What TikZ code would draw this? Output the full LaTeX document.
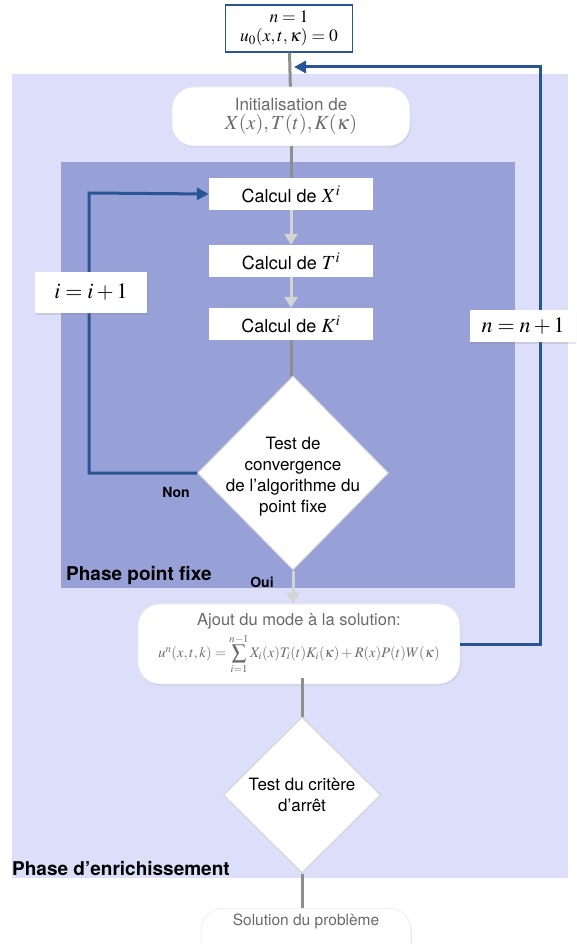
\documentclass[tikz,border=0pt]{standalone}
\usepackage{mathptmx}
\usepackage{fontspec}
\setmainfont{TeX Gyre Heros}
\usetikzlibrary{arrows.meta,positioning,shapes.geometric,shadows}
\definecolor{Lav}{HTML}{DDDEF9}
\definecolor{Peri}{HTML}{97A0D7}
\definecolor{Navy}{HTML}{2A5595}
\definecolor{Stem}{HTML}{8E8E8E}
\definecolor{Faint}{HTML}{D4D4D4}
\definecolor{Muted}{HTML}{6A6A6A}
\newcommand{\iterm}[1]{{\fontsize{20}{21}\selectfont$#1$}}
\tikzset{
  >=Latex,
  fnt/.style={font=\fontsize{#1}{21}\selectfont},
  start/.style={rectangle,draw=Navy,line width=1.3pt,fill=white,minimum width=127,minimum height=47,align=center,inner sep=2pt,fnt=17.5},
  calcbox/.style={rectangle,fill=white,minimum width=164,minimum height=32,inner sep=0pt,fnt=18},
  rbox/.style={rectangle,rounded corners=22,fill=white,draw=black!8,line width=.6pt,text=Muted,align=center,
    drop shadow={opacity=.18,shadow xshift=1pt,shadow yshift=-1.5pt}},
  test/.style={diamond,fill=white,draw=Faint,line width=1pt,inner sep=0pt},
  lab/.style={rectangle,fill=white,inner sep=0pt,fnt=22,
    drop shadow={opacity=.2,shadow xshift=1pt,shadow yshift=-1.5pt}},
  stem/.style={draw=Stem,line width=3pt},
  flow/.style={-{Triangle[width=13pt,length=11pt]},draw=Faint,line width=3pt},
  loop/.style={-{Triangle[width=12pt,length=12pt]},draw=Navy,line width=3pt},
  tag/.style={font=\bfseries\fontsize{#1}{22}\selectfont,inner sep=0pt}
}
\begin{document}
\begin{tikzpicture}[x=1pt,y=-1pt]
  \path[use as bounding box,clip] (0,0) rectangle (576,944);
  % phases
  \fill[Lav] (12,74) rectangle (568,878);
  \fill[Peri] (61,162) rectangle (515,588);
  \node[tag=19,anchor=south west] (enr) at (12,876) {Phase d'enrichissement};
  \node[tag=19,anchor=south west] (pf) at (66,585) {Phase point fixe};
  % steps
  \node[start] (n1) at (289,28.5) {$n=1$\\[-2pt]$u_0(x,t,\kappa)=0$};
  \node[rbox,minimum width=238,minimum height=59,inner sep=2pt] (init) at (291,116.5)
    {\fontsize{17}{19}\selectfont Initialisation de\\[3pt]\fontsize{20}{22}\selectfont$X(x),T(t),K(\kappa)$};
  \node[calcbox] (cx) at (291,194) {Calcul de \iterm{X^i}};
  \node[calcbox] (ct) at (291,261) {Calcul de \iterm{T^i}};
  \node[calcbox] (ck) at (291,324) {Calcul de \iterm{K^i}};
  \node[test,minimum width=191,minimum height=194] (conv) at (293,473) {};
  \node[align=center,fnt=17] (convt) at ([yshift=-4]conv.center) {Test de\\convergence\\de l'algorithme du\\point fixe};
  \node[rbox,minimum width=322,minimum height=80,inner sep=2pt] (ajout) at (299,644)
    {\fontsize{16.5}{18}\selectfont Ajout du mode à la solution:\\[3pt]
     \fontsize{14.5}{15}\selectfont$u^n(x,t,k)=\displaystyle\sum_{i=1}^{n-1}X_i(x)T_i(t)K_i(\kappa)+R(x)P(t)W(\kappa)$};
  \node[test,minimum width=157,minimum height=156] (arret) at (302,795) {};
  \node[align=center,fnt=17] (arrett) at (arret.center) {Test du critère\\d'arrêt};
  \node[rbox,minimum width=210,minimum height=56,inner sep=2pt,fnt=15.5,anchor=north] (sol) at (306,908) {Solution du problème\\[12pt]};
  % links
  \draw[stem] (n1) -- (init);
  \draw[stem] (init) -- (cx);
  \draw[flow] (cx) -- (ct);
  \draw[flow] (ct) -- (ck);
  \draw[stem] (ck.south) -- (ck.south |- conv.north);
  \draw[flow] (conv.south) -- (ajout.north -| conv.south);
  \draw[stem] ([yshift=6]ajout.south -| arret.north) -- (arret.north);
  \draw[stem] (arret.south) -- (sol.north -| arret.south);
  % loops
  \draw[loop] (conv.west) -| (89,193) -- (cx.west);
  \coordinate (back) at (540,67);
  \draw[loop] (ajout.east) -| (back) -- ([xshift=5]back -| n1.south);
  \node[lab,minimum width=112,minimum height=41] (ii) at (91,292.5) {$i=i+1$};
  \node[lab,minimum width=106,minimum height=32,anchor=west] (nn) at (470,326) {$n=n+1$};
  \node[tag=14] (non) at (176,492) {Non};
  \node[tag=14] (oui) at (262,582) {Oui};
\end{tikzpicture}
\end{document}
